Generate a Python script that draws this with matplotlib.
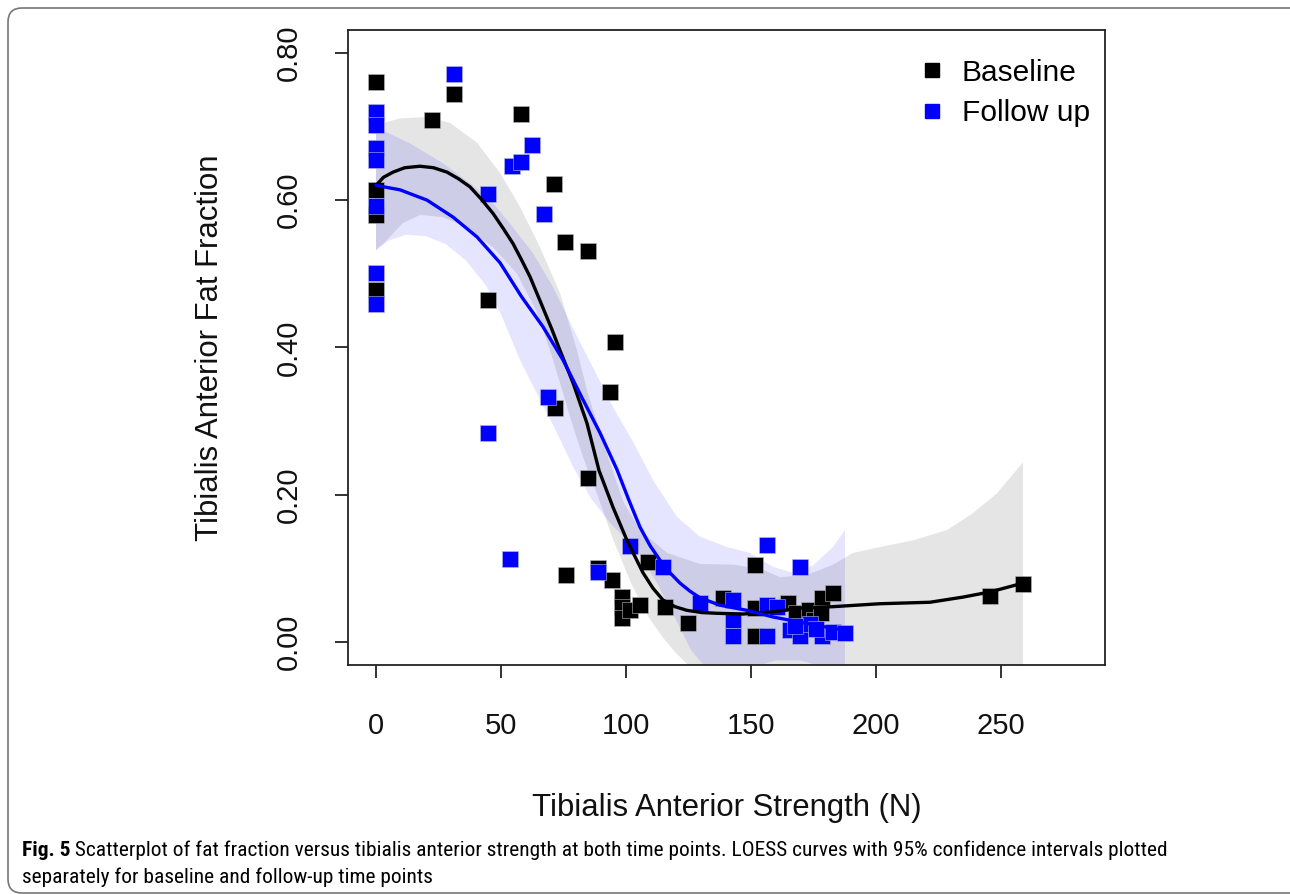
import numpy as np
import matplotlib
matplotlib.use('Agg')
import matplotlib.pyplot as plt
from matplotlib import font_manager
from matplotlib.patches import FancyBboxPatch
from matplotlib.transforms import IdentityTransform
from matplotlib.lines import Line2D

plt.rcParams['font.family'] = ['Liberation Sans', 'DejaVu Sans']

# 数据：散点（基线 / 随访）
base_x = [0, 0, 0, 0, 22.4, 31.2, 58.0, 71.2, 75.6, 84.8, 44.8, 95.6, 93.6, 71.6, 84.8,
          76.0, 88.8, 94.4, 98.4, 98.4, 98.4, 101.6, 105.6, 108.8, 115.6, 124.8, 138.8,
          151.6, 151.6, 151.6, 164.8, 168.0, 173.0, 175.0, 178.4, 178.0, 182.8, 245.6, 258.8]
base_y = [0.760, 0.614, 0.580, 0.478, 0.709, 0.744, 0.717, 0.622, 0.543, 0.531, 0.464, 0.407,
          0.339, 0.318, 0.223, 0.091, 0.100, 0.084, 0.061, 0.048, 0.033, 0.043, 0.050, 0.109,
          0.048, 0.026, 0.060, 0.105, 0.046, 0.008, 0.053, 0.039, 0.043, 0.030, 0.060, 0.039,
          0.067, 0.062, 0.079]

fu_x = [0, 0, 0, 0, 0, 0, 0, 31.2, 54.4, 58.0, 62.4, 44.8, 67.2, 68.8, 44.8, 53.6, 88.8,
        101.6, 114.8, 129.6, 142.8, 142.8, 142.8, 156.4, 169.6, 156.4, 160.4, 156.4, 165.6,
        169.6, 173.6, 178.4, 182.8, 187.6, 167.6, 176.0]
fu_y = [0.720, 0.702, 0.671, 0.654, 0.592, 0.501, 0.459, 0.771, 0.646, 0.652, 0.675, 0.608,
        0.581, 0.333, 0.284, 0.113, 0.095, 0.131, 0.102, 0.053, 0.057, 0.030, 0.008, 0.132,
        0.102, 0.050, 0.048, 0.008, 0.016, 0.008, 0.025, 0.008, 0.014, 0.012, 0.022, 0.018]

# LOESS 曲线
bl_fit_x = [0, 3.0, 6.8, 11.5, 17.6, 23.0, 28.4, 33.0, 37.6, 42.2, 46.8, 50.8, 54.8, 58.2,
            61.6, 64.3, 67.0, 70.3, 73.6, 78.8, 84.4, 89.2, 94.8, 100.4, 106.8, 110.8, 114.8,
            119.6, 124.4, 130.4, 136.4, 146.8, 158.8, 169.6, 182.8, 201.6, 221.6, 234.8,
            245.6, 258.8]
bl_fit_y = [0.620, 0.631, 0.638, 0.644, 0.646, 0.644, 0.638, 0.629, 0.618, 0.601, 0.582,
            0.562, 0.541, 0.519, 0.496, 0.474, 0.452, 0.425, 0.396, 0.352, 0.297, 0.233,
            0.183, 0.138, 0.094, 0.073, 0.057, 0.048, 0.043, 0.040, 0.039, 0.038, 0.041,
            0.046, 0.048, 0.052, 0.054, 0.061, 0.068, 0.080]

fu_fit_x = [0, 9.6, 20.4, 30.8, 40.4, 49.6, 58.2, 66.8, 74.8, 82.8, 89.6, 96.4, 101.0,
            105.6, 109.6, 113.6, 117.6, 121.6, 125.6, 129.6, 137.6, 148.4, 158.8, 169.6,
            180.4, 187.6]
fu_fit_y = [0.620, 0.614, 0.600, 0.577, 0.550, 0.515, 0.469, 0.428, 0.383, 0.329, 0.284,
            0.234, 0.194, 0.156, 0.131, 0.111, 0.094, 0.080, 0.069, 0.060, 0.050, 0.043,
            0.034, 0.027, 0.020, 0.016]

# 95% 置信带
bl_up_x = [0, 9.6, 20.4, 29.6, 40.4, 49.6, 57.6, 65.6, 73.6, 80.4, 84.4, 88.4, 93.6, 99.0,
           105.6, 116.4, 129.6, 142.8, 153.6, 161.6, 172.4, 182.8, 190.8, 201.6, 214.8,
           228.4, 238.8, 248.4, 258.8]
bl_up_y = [0.702, 0.711, 0.713, 0.705, 0.678, 0.637, 0.591, 0.536, 0.474, 0.396, 0.342,
           0.297, 0.243, 0.190, 0.152, 0.121, 0.106, 0.105, 0.100, 0.088, 0.091, 0.105,
           0.121, 0.129, 0.138, 0.152, 0.175, 0.202, 0.244]
bl_lo_x = [0, 4.4, 10.8, 17.6, 26.8, 36.4, 46.8, 56.4, 64.4, 69.6, 73.6, 77.6, 82.8, 88.0,
           95.0, 102.0, 109.0, 115.0, 120.0, 126.0, 140.0, 160.0, 190.0, 230.0, 258.8]
bl_lo_y = [0.532, 0.546, 0.569, 0.580, 0.577, 0.563, 0.536, 0.500, 0.448, 0.396, 0.352,
           0.306, 0.251, 0.205, 0.138, 0.080, 0.034, 0.005, -0.015, -0.035, -0.050, -0.055,
           -0.060, -0.080, -0.100]

fu_up_x = [0, 13.6, 26.8, 37.6, 46.8, 54.8, 62.8, 70.8, 80.4, 88.4, 94.8, 102.8, 110.8,
           120.4, 129.6, 140.4, 149.6, 158.8, 166.8, 174.8, 182.8, 187.6]
fu_up_y = [0.699, 0.677, 0.650, 0.623, 0.596, 0.563, 0.528, 0.482, 0.415, 0.362, 0.319,
           0.272, 0.220, 0.170, 0.143, 0.129, 0.121, 0.102, 0.094, 0.104, 0.129, 0.152]
fu_lo_x = [0, 5, 12, 20, 28, 36, 44, 50, 57.6, 65.6, 72.4, 78.8, 86, 94, 104.4, 112.4, 120,
           126, 132, 140, 150, 160, 170, 180, 187.6]
fu_lo_y = [0.532, 0.545, 0.553, 0.551, 0.540, 0.518, 0.484, 0.445, 0.383, 0.329, 0.284,
           0.238, 0.195, 0.160, 0.125, 0.080, 0.030, -0.011, -0.035, -0.045, -0.035, -0.025,
           -0.025, -0.035, -0.050]

x_ticks = [0, 50, 100, 150, 200, 250]
y_ticks = [0.0, 0.2, 0.4, 0.6, 0.8]

caption_bold = "Fig. 5"
caption_1 = (" Scatterplot of fat fraction versus tibialis anterior strength at both time points. "
             "LOESS curves with 95% confidence intervals plotted")
caption_2 = "separately for baseline and follow-up time points"

# 画图
fig = plt.figure(figsize=(12.9, 8.94), dpi=100)
ax = fig.add_axes([348 / 1290, 1 - 665 / 894, 757 / 1290, 635 / 894])


def band(xs_lo, ys_lo, xs_up, ys_up):
    xs = np.concatenate([xs_up, xs_lo[::-1]])
    ys = np.concatenate([ys_up, ys_lo[::-1]])
    return xs, ys


gx, gy = band(np.array(bl_lo_x), np.array(bl_lo_y), np.array(bl_up_x), np.array(bl_up_y))
ax.fill(gx, gy, color=(0.745, 0.745, 0.745), alpha=0.4, lw=0, zorder=1)
bx, by = band(np.array(fu_lo_x), np.array(fu_lo_y), np.array(fu_up_x), np.array(fu_up_y))
ax.fill(bx, by, color='blue', alpha=0.1, lw=0, zorder=1.1)

ax.scatter(base_x, base_y, marker='s', s=125, c='black', edgecolors='#bbbbbb',
           linewidths=0.4, zorder=3)
ax.scatter(fu_x, fu_y, marker='s', s=125, c='blue', edgecolors='#bbbbdd',
           linewidths=0.4, zorder=3.1)

ax.plot(bl_fit_x, bl_fit_y, color='black', lw=2.4, zorder=4, solid_capstyle='round',
        solid_joinstyle='round')
ax.plot(fu_fit_x, fu_fit_y, color='blue', lw=2.4, zorder=4.1, solid_capstyle='round',
        solid_joinstyle='round')

ax.set_xlim(-11.2, 291.6)
ax.set_ylim(-0.0312, 0.831)
ax.set_xticks(x_ticks)
ax.set_xticklabels([str(v) for v in x_ticks])
ax.set_yticks(y_ticks)
ax.set_yticklabels([f"{v:.2f}" for v in y_ticks])
ax.tick_params(axis='both', direction='out', length=9.5, width=1.3, labelsize=21,
               color='#222222', labelcolor='#111111')
ax.tick_params(axis='x', pad=24)
ax.tick_params(axis='y', pad=23, labelrotation=90)
for lab in ax.get_yticklabels():
    lab.set_va('center')
for sp in ax.spines.values():
    sp.set_linewidth(1.3)
    sp.set_color('#222222')

ax.set_xlabel("Tibialis Anterior Strength (N)", fontsize=22.4, va='center', color='#111111')
ax.xaxis.set_label_coords(0.5, (665 - 808) / 635)
ax.set_ylabel("Tibialis Anterior Fat Fraction", fontsize=22.4, va='center', color='#111111')
ax.yaxis.set_label_coords((210 - 348) / 757, 0.5)

handles = [Line2D([], [], marker='s', ls='none', color='black', markersize=9.5),
           Line2D([], [], marker='s', ls='none', color='blue', markersize=9.5)]
ax.legend(handles, ["Baseline", "Follow up"], loc='upper right', frameon=False,
          fontsize=21.5, handletextpad=0.5, labelspacing=0.42, borderaxespad=0,
          borderpad=0.4, bbox_to_anchor=(1 - 3 / 757, 1 - 17 / 635), handlelength=1.0)

# 外框
frame = FancyBboxPatch((8, 1), 1400, 885, boxstyle='round,pad=0,rounding_size=14',
                       transform=IdentityTransform(), fill=False, edgecolor='#777777', lw=1.2)
fig.add_artist(frame)

# 图注：优先用窄体字
names = {f.name for f in font_manager.fontManager.ttflist}
narrow = [n for n in ['Liberation Sans Narrow', 'Roboto Condensed', 'Open Sans Condensed',
                      'Noto Sans Condensed', 'DejaVu Sans Condensed'] if n in names]
if narrow:
    cap_font, cap_size = [narrow[0], 'DejaVu Sans'], 15.4
else:
    cap_font, cap_size = ['Liberation Sans', 'DejaVu Sans'], 13.7

t_bold = fig.text(22 / 1290, 1 - 850 / 894, caption_bold, fontsize=cap_size,
                  fontweight='bold', va='center', ha='left', family=cap_font)
fig.canvas.draw()
bb = t_bold.get_window_extent(renderer=fig.canvas.get_renderer())
fig.text(bb.x1 / 1290, 1 - 850 / 894, caption_1, fontsize=cap_size, va='center', ha='left',
         family=cap_font)
fig.text(22 / 1290, 1 - 877 / 894, caption_2, fontsize=cap_size, va='center', ha='left',
         family=cap_font)

fig.savefig('out.png', dpi=100)
